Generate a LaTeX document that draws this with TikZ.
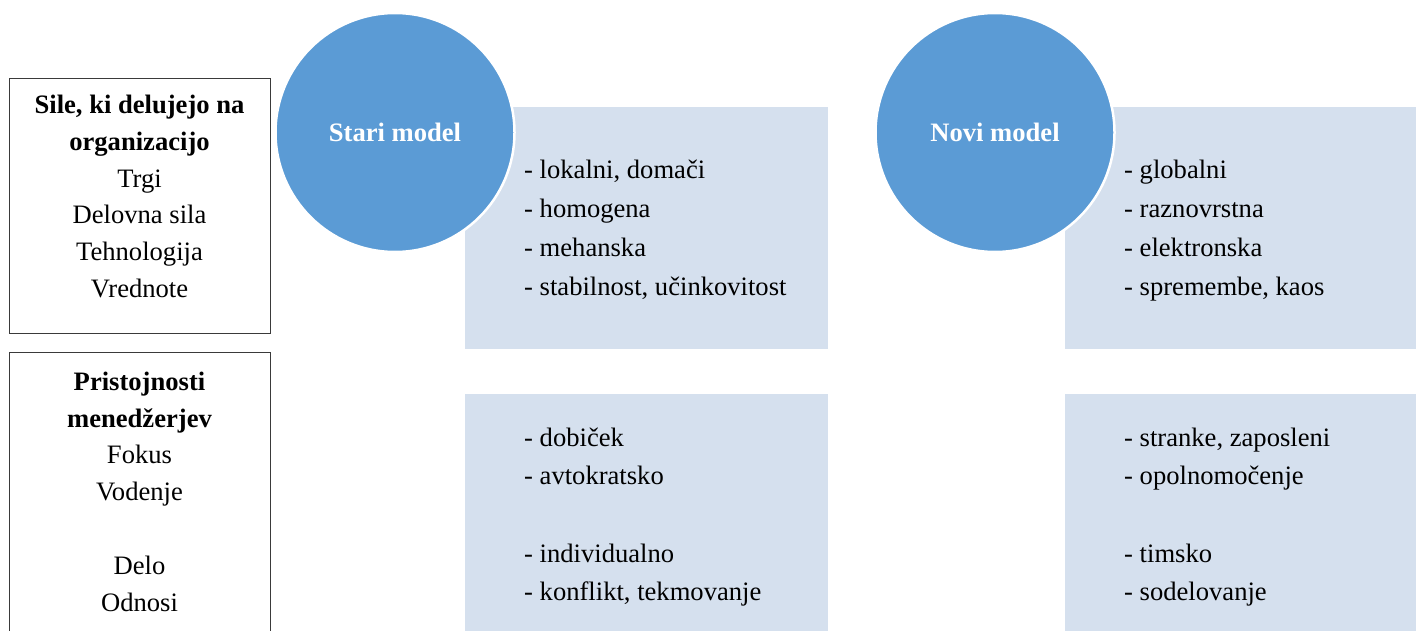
\documentclass[tikz,border=0pt]{standalone}
\usepackage{fontspec}
\setmainfont{Liberation Serif}
\definecolor{modelblue}{HTML}{5B9BD5}
\definecolor{panel}{HTML}{D5E0EE}
\definecolor{frame}{HTML}{3A3A3A}
\tikzset{
  panelbox/.style={rectangle, fill=panel, draw=none, inner sep=0, outer sep=0, anchor=north west},
  framebox/.style={rectangle, draw=frame, line width=1.3pt, inner sep=0, anchor=north west},
  modelcircle/.style={circle, fill=modelblue, draw=white, line width=2.5pt, inner sep=0,
    minimum size=239pt, text=white, font=\bfseries\fontsize{26.6}{30}\selectfont},
  item/.style={anchor=base west, inner sep=0, font=\fontsize{26.6}{30}\selectfont},
  side/.style={anchor=base, inner sep=0, font=\fontsize{26.6}{30}\selectfont},
  sidehead/.style={side, font=\bfseries\fontsize{26.6}{30}\selectfont},
}
\begin{document}
\begin{tikzpicture}[x=1pt,y=-1pt]
\useasboundingbox (0,0) rectangle (1416,631);
\clip (0,0) rectangle (1416,631);

% left-hand framed boxes
\node[framebox, minimum width=261pt, minimum height=255pt] (forces) at (9,78) {};
\node[framebox, minimum width=261pt, minimum height=300pt] (skills) at (9,352) {};

\foreach \y/\t [count=\i] in {114/{Sile, ki delujejo na}, 150.7/organizacijo}
  \node[sidehead] (fh\i) at (139.5,\y) {\t};
\foreach \y/\t [count=\i] in {187.4/Trgi, 224/Delovna sila, 260.7/Tehnologija, 297.4/Vrednote}
  \node[side] (fl\i) at (139.5,\y) {\t};

\foreach \y/\t [count=\i] in {390.5/Pristojnosti, 427.2/menedžerjev}
  \node[sidehead] (sh\i) at (139.5,\y) {\t};
\foreach \y/\t [count=\i] in {463.9/Fokus, 500.6/Vodenje, 574.8/Delo, 611.5/Odnosi}
  \node[side] (sl\i) at (139.5,\y) {\t};

% light panels
\node[panelbox, minimum width=363pt, minimum height=242pt] (oldtop) at (465,107) {};
\node[panelbox, minimum width=351pt, minimum height=242pt] (newtop) at (1065,107) {};
\node[panelbox, minimum width=363pt, minimum height=237pt] (oldbot) at (465,394) {};
\node[panelbox, minimum width=351pt, minimum height=237pt] (newbot) at (1065,394) {};

% model circles
\node[modelcircle] (old) at (395,132.5) {Stari model};
\node[modelcircle] (new) at (995,132.5) {Novi model};

% panel contents
\foreach \y/\t [count=\i] in {179/{- lokalni, domači}, 217.7/- homogena, 256.4/- mehanska, 295.1/{- stabilnost, učinkovitost}}
  \node[item] (ot\i) at (524,\y) {\t};
\foreach \y/\t [count=\i] in {179/- globalni, 217.7/- raznovrstna, 256.4/- elektronska, 295.1/{- spremembe, kaos}}
  \node[item] (nt\i) at (1124,\y) {\t};
\foreach \y/\t [count=\i] in {446/- dobiček, 484.7/- avtokratsko, 562.1/- individualno, 600.8/{- konflikt, tekmovanje}}
  \node[item] (ob\i) at (524,\y) {\t};
\foreach \y/\t [count=\i] in {446/{- stranke, zaposleni}, 484.7/- opolnomočenje, 562.1/- timsko, 600.8/- sodelovanje}
  \node[item] (nb\i) at (1124,\y) {\t};
\end{tikzpicture}
\end{document}
